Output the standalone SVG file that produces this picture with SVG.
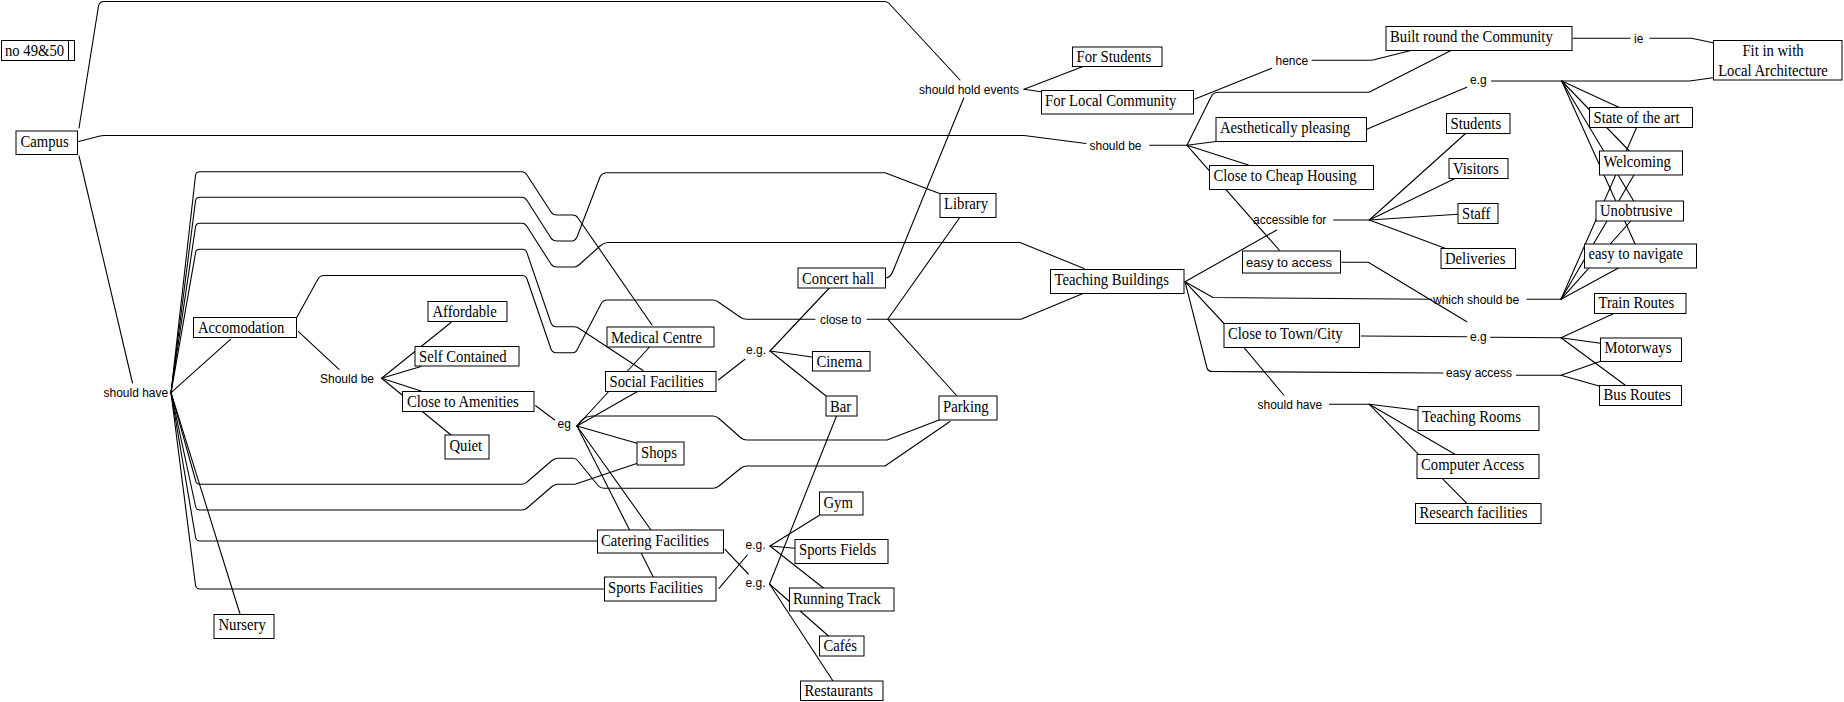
<svg xmlns="http://www.w3.org/2000/svg" width="1844" height="702" viewBox="0 0 1844 702">
<style>
.bg{fill:#fff}
.c path{fill:none;stroke:#000;stroke-width:1.1;stroke-linejoin:round;stroke-linecap:round}
.b{fill:#fff;stroke:#000;stroke-width:1}
.t{font-family:"Liberation Serif","Times New Roman",serif;font-size:17px;fill:#000;transform-box:fill-box;transform-origin:0 0;transform:scaleX(0.865)}
.tm{font-family:"Liberation Serif","Times New Roman",serif;font-size:17px;fill:#000;text-anchor:middle;transform-box:fill-box;transform-origin:50% 0;transform:scaleX(0.865)}
.s{font-family:"Liberation Sans",Arial,sans-serif;font-size:13px;fill:#000}
.l{font-family:"Liberation Sans",Arial,sans-serif;font-size:12px;fill:#000}
</style>
<rect class="bg" x="0" y="0" width="1844" height="702"/>
<g id="connectors" class="c">
<path d="M79,128 L98.5,6 Q99.5,1.5 104,1.5 L884,1.5 Q888,1.5 890.5,5 L960,80"/>
<path d="M77.5,141.7 L100,136 Q102,135.5 104,135.5 L1024,135.5 L1086,143.5"/>
<path d="M1149.6,145.3 L1187,145.3"/>
<path d="M79,156 L132.5,383"/>
<path d="M171,392.7 L230.5,339.3"/>
<path d="M171,392.7 L195.5,175.5 Q196,171.7 200,171.7 L522,171.7 Q525,171.7 527,175 L551,212 Q553,215 557,215 L573,215 Q576,215 578,218 L652,325"/>
<path d="M171,392.7 L195.5,201 Q196,197.3 200,197.3 L522,197.3 Q525,197.3 527,200.5 L551,238 Q553,241 557,241 L572,241 Q575,241 577,237 L600,177 Q602,172.7 607,172.7 L885,172.7 L939.5,193.5"/>
<path d="M171,392.7 L195.5,227 Q196,223.3 200,223.3 L522,223.3 Q525,223.3 527,226.5 L551,264 Q553,267 557,267 L574,267 Q577,267 580,264 L600,246 Q604,242.5 608,242.5 L1020,242.5 L1084,268.5"/>
<path d="M171,392.7 L195.5,253 Q196,249.3 200,249.3 L522,249.3 Q526,249.3 527,253 L551,323 Q552.5,326.7 556,326.7 L574,326.7 Q577,326.7 580,329 L643,370.5"/>
<path d="M296.5,318 L318,279 Q320,275.5 324,275.5 L522,275.5 Q526,275.5 527,279 L551,349 Q552.5,352.7 556,352.7 L573,352.7 Q576,352.7 577.5,349 L601,304 Q603,300 607,300 L713,300 Q716,300 719,302.5 L740,317 Q743,319.3 747,319.3 L815,319.3"/>
<path d="M171,392.7 L195.5,480 Q196,484.3 200,484.3 L522,484.3 Q525,484.3 527,482 L552,460.5 Q555,458.3 558,458.3 L573,458.3 Q576,458.3 578,461 L598,485.5 Q600.5,488.3 604,488.3 L713,488.3 Q716,488.3 719,486 L741,468 Q744,466 747,466 L885,466 L950,421.5"/>
<path d="M171,392.7 L195.5,506 Q196,510 200,510 L522,510 Q525,510 527,508 L552,486.5 Q555,484.3 558,484.3 L575,484.3 L636.7,463.5"/>
<path d="M171,392.7 L195.5,537 Q196,541 200,541 L597,541"/>
<path d="M171,392.7 L195.5,585 Q196,589 200,589 L604,589"/>
<path d="M171,392.7 L240,614"/>
<path d="M298.5,331.7 L339,369.3"/>
<path d="M381.6,378.3 L451,322.5"/>
<path d="M381.6,378.3 L421,366.5"/>
<path d="M381.6,378.3 L421,391"/>
<path d="M381.6,378.3 L451,435"/>
<path d="M535.7,405.7 L554.7,420"/>
<path d="M577,426 L650,346.5"/>
<path d="M577,426 L638.3,391"/>
<path d="M577,426 Q583,416 592,416 L713,416 Q716,416 719,418.5 L741,438 Q743.5,440 747,440 L887,440 L939,420"/>
<path d="M577,426 L637,443.3"/>
<path d="M577,426 L651,530"/>
<path d="M577,426 L653.3,577"/>
<path d="M718.3,380 L745,359.3"/>
<path d="M770,351 L829.3,288"/>
<path d="M770,351 L812,357"/>
<path d="M770,351 L826,396"/>
<path d="M719,588.3 L747.3,555"/>
<path d="M725,549.3 L748.3,574"/>
<path d="M770,546 L819,515.5"/>
<path d="M770,546 L795,548.3"/>
<path d="M770,546 L823.4,588"/>
<path d="M769.5,584 L836.5,416"/>
<path d="M769.5,584 L828.5,636"/>
<path d="M769.5,584 L833,681"/>
<path d="M867,319.3 L887.8,319.3 L1021,319.3 L1083,293.5"/>
<path d="M887.8,319.3 L959.8,217.5"/>
<path d="M887.8,319.3 L957,396"/>
<path d="M963.8,98 L893,271 Q891,277 886,278"/>
<path d="M1024,89.3 L1083,66.5"/>
<path d="M1024,89.3 L1041,91.7"/>
<path d="M1195,99 L1271.7,68.3"/>
<path d="M1312,60.3 L1369,60.3 Q1373,60.3 1377,59 L1411,50.5"/>
<path d="M1187,145.3 L1211,97 Q1213,92.3 1219,92.3 L1369,92.3 L1451,50.5"/>
<path d="M1187,145.3 L1216,141.5"/>
<path d="M1187,145.3 L1248.3,165"/>
<path d="M1187,145.3 L1280,251"/>
<path d="M1367,129.3 L1372,127 L1466.8,87.3"/>
<path d="M1491.4,81 L1689.6,81 L1713,77.7"/>
<path d="M1561.7,81 L1641,117.5"/>
<path d="M1561.7,81 L1641,163"/>
<path d="M1561.7,81 L1639.7,211"/>
<path d="M1561.7,81 L1640.5,256"/>
<path d="M1573,38.3 L1630,38.3"/>
<path d="M1650,38.3 L1691.6,38.3 L1713,42.7"/>
<path d="M1185,281.7 L1276.7,230"/>
<path d="M1185,281.7 L1213,297.5 L1431.7,299.3"/>
<path d="M1185,281.7 L1224,323.5"/>
<path d="M1185,281.7 L1207,368 Q1208,371.5 1213,371.5 L1443,373"/>
<path d="M1333.7,220 L1369.3,220"/>
<path d="M1369.3,220 L1465,134"/>
<path d="M1369.3,220 L1454,179"/>
<path d="M1369.3,220 L1458,214.3"/>
<path d="M1369.3,220 L1445,248.3"/>
<path d="M1341.7,262.3 L1368.3,262.3 L1466.8,321.7"/>
<path d="M1361.3,336 L1466.8,336.7"/>
<path d="M1490.6,337.3 L1561,337.7"/>
<path d="M1561,337.7 L1612.8,314"/>
<path d="M1561,337.7 L1600.5,343.3"/>
<path d="M1561,337.7 L1625,385"/>
<path d="M1516.5,375.3 L1561,375.3 L1600,361.5"/>
<path d="M1561,375.3 L1599,386"/>
<path d="M1527,299.3 L1561,299.3"/>
<path d="M1561,299.3 L1641,117.5"/>
<path d="M1561,299.3 L1641,163"/>
<path d="M1561,299.3 L1639.7,211"/>
<path d="M1561,299.3 L1640.5,256"/>
<path d="M1244.7,348.3 L1283.7,395"/>
<path d="M1329.5,404.3 L1369.3,404.3"/>
<path d="M1369.3,404.3 L1418,410.3"/>
<path d="M1369.3,404.3 L1454.8,454.3"/>
<path d="M1369.3,404.3 L1466.8,503.3"/>
</g>
<g id="labels">
<g id="l_should_hold_events"><text class="l" x="919" y="93.5">should hold events</text></g>
<g id="l_should_be_campus"><text class="l" x="1089.5" y="149.5">should be</text></g>
<g id="l_should_have_campus"><text class="l" x="103.5" y="397">should have</text></g>
<g id="l_should_be_accom"><text class="l" x="320" y="382.5">Should be</text></g>
<g id="l_eg_amenities"><text class="l" x="557.5" y="428">eg</text></g>
<g id="l_close_to"><text class="l" x="820" y="323.5">close to</text></g>
<g id="l_eg_social"><text class="l" x="746" y="354">e.g.</text></g>
<g id="l_eg_sports"><text class="l" x="745.5" y="548.5">e.g.</text></g>
<g id="l_eg_catering"><text class="l" x="745.5" y="586.5">e.g.</text></g>
<g id="l_hence"><text class="l" x="1275.5" y="65">hence</text></g>
<g id="l_ie"><text class="l" x="1634" y="43">ie</text></g>
<g id="l_eg_aesthetic"><text class="l" x="1470" y="83.5">e.g</text></g>
<g id="l_accessible_for"><text class="l" x="1253" y="224">accessible for</text></g>
<g id="l_which_should_be"><text class="l" x="1433" y="303.5">which should be</text></g>
<g id="l_eg_routes"><text class="l" x="1470" y="340.5">e.g</text></g>
<g id="l_easy_access"><text class="l" x="1446" y="377">easy access</text></g>
<g id="l_should_have_town"><text class="l" x="1257.5" y="408.5">should have</text></g>
</g>
<g id="nodes">
<g id="n_no4950"><rect class="b" x="1.5" y="40.5" width="73" height="20"/><path d="M68.5,40.5 V60.5" stroke="#000" stroke-width="1"/><text class="t" x="5" y="56.5">no 49&amp;50</text></g>
<g id="n_campus"><rect class="b" x="16" y="131" width="61.5" height="23.5"/><text class="t" x="20.5" y="147">Campus</text></g>
<g id="n_accomodation"><rect class="b" x="193.5" y="317.5" width="103" height="20"/><text class="t" x="198" y="333.5">Accomodation</text></g>
<g id="n_affordable"><rect class="b" x="428" y="301.5" width="79" height="20"/><text class="t" x="432.5" y="317.5">Affordable</text></g>
<g id="n_selfcontained"><rect class="b" x="415" y="346.5" width="104" height="19.5"/><text class="t" x="419" y="362.5">Self Contained</text></g>
<g id="n_closetoamenities"><rect class="b" x="402.5" y="391.5" width="131.5" height="20"/><text class="t" x="407" y="407.5">Close to Amenities</text></g>
<g id="n_quiet"><rect class="b" x="445" y="435" width="44" height="24"/><text class="t" x="449.5" y="451">Quiet</text></g>
<g id="n_nursery"><rect class="b" x="214" y="614.5" width="60" height="24"/><text class="t" x="218.5" y="630.5">Nursery</text></g>
<g id="n_medicalcentre"><rect class="b" x="607" y="327" width="107" height="20"/><text class="t" x="611" y="343">Medical Centre</text></g>
<g id="n_socialfacilities"><rect class="b" x="605.5" y="371.5" width="110.5" height="20"/><text class="t" x="609.5" y="387.5">Social Facilities</text></g>
<g id="n_shops"><rect class="b" x="637" y="442" width="47" height="23"/><text class="t" x="641" y="458">Shops</text></g>
<g id="n_catering"><rect class="b" x="597.5" y="530" width="126" height="23"/><text class="t" x="601" y="546">Catering Facilities</text></g>
<g id="n_sportsfacilities"><rect class="b" x="604.5" y="577" width="111.5" height="24"/><text class="t" x="608" y="593">Sports Facilities</text></g>
<g id="n_concerthall"><rect class="b" x="798" y="268" width="87.5" height="20"/><text class="t" x="802" y="284">Concert hall</text></g>
<g id="n_library"><rect class="b" x="940" y="193.5" width="56" height="24"/><text class="t" x="944" y="209.5">Library</text></g>
<g id="n_cinema"><rect class="b" x="812.5" y="351.5" width="57.5" height="19.5"/><text class="t" x="816.5" y="367">Cinema</text></g>
<g id="n_bar"><rect class="b" x="826" y="396" width="31" height="20"/><text class="t" x="830" y="412">Bar</text></g>
<g id="n_parking"><rect class="b" x="939" y="396" width="58" height="24"/><text class="t" x="943" y="412">Parking</text></g>
<g id="n_gym"><rect class="b" x="819.5" y="492" width="43.5" height="23"/><text class="t" x="823.5" y="508">Gym</text></g>
<g id="n_sportsfields"><rect class="b" x="795" y="539.5" width="93" height="24"/><text class="t" x="799" y="555">Sports Fields</text></g>
<g id="n_runningtrack"><rect class="b" x="789.5" y="588" width="104.5" height="23"/><text class="t" x="793" y="604">Running Track</text></g>
<g id="n_cafes"><rect class="b" x="819.5" y="636" width="44.5" height="20"/><text class="t" x="823.5" y="651.5">Cafés</text></g>
<g id="n_restaurants"><rect class="b" x="800.5" y="681" width="82.5" height="19.5"/><text class="t" x="804.5" y="696.5">Restaurants</text></g>
<g id="n_forstudents"><rect class="b" x="1072.5" y="47" width="89.5" height="19.5"/><text class="t" x="1076.5" y="62.5">For Students</text></g>
<g id="n_forlocalcommunity"><rect class="b" x="1041.5" y="90.5" width="152" height="23.5"/><text class="t" x="1045" y="106">For Local Community</text></g>
<g id="n_teachingbuildings"><rect class="b" x="1050.5" y="269.5" width="133.5" height="24"/><text class="t" x="1054.5" y="285">Teaching Buildings</text></g>
<g id="n_builtround"><rect class="b" x="1386" y="26.5" width="186" height="24"/><text class="t" x="1390" y="42">Built round the Community</text></g>
<g id="n_fitin"><rect class="b" x="1713.5" y="40.5" width="128.5" height="39.5"/><text class="tm" x="1773" y="56">Fit in with</text><text class="tm" x="1773" y="76">Local Architecture</text></g>
<g id="n_aesthetic"><rect class="b" x="1216" y="117.5" width="150.5" height="24"/><text class="t" x="1220" y="133">Aesthetically pleasing</text></g>
<g id="n_cheaphousing"><rect class="b" x="1209.5" y="165.5" width="164" height="24"/><text class="t" x="1213.5" y="181">Close to Cheap Housing</text></g>
<g id="n_easytoaccess"><rect class="b" x="1242.5" y="251" width="98" height="22"/><text class="s" x="1246" y="266.5">easy to access</text></g>
<g id="n_students"><rect class="b" x="1446.5" y="113.5" width="63.5" height="20"/><text class="t" x="1450.5" y="129">Students</text></g>
<g id="n_visitors"><rect class="b" x="1449" y="158.5" width="59" height="20"/><text class="t" x="1453" y="174.5">Visitors</text></g>
<g id="n_staff"><rect class="b" x="1458" y="203.5" width="40" height="20"/><text class="t" x="1462" y="219">Staff</text></g>
<g id="n_deliveries"><rect class="b" x="1441" y="248.5" width="74.5" height="20"/><text class="t" x="1445" y="264">Deliveries</text></g>
<g id="n_stateoftheart"><rect class="b" x="1589.5" y="107.5" width="103" height="20"/><text class="t" x="1593.5" y="123">State of the art</text></g>
<g id="n_welcoming"><rect class="b" x="1599.5" y="151" width="83" height="24"/><text class="t" x="1603.5" y="167">Welcoming</text></g>
<g id="n_unobtrusive"><rect class="b" x="1596" y="201" width="87.5" height="20"/><text class="t" x="1600" y="216.5">Unobtrusive</text></g>
<g id="n_easytonavigate"><rect class="b" x="1584.5" y="244" width="112" height="24"/><text class="t" x="1588.5" y="259.5">easy to navigate</text></g>
<g id="n_trainroutes"><rect class="b" x="1594.5" y="293.5" width="91.5" height="20"/><text class="t" x="1598.5" y="308.5">Train Routes</text></g>
<g id="n_motorways"><rect class="b" x="1600.5" y="338" width="81" height="23.5"/><text class="t" x="1604.5" y="353.5">Motorways</text></g>
<g id="n_busroutes"><rect class="b" x="1599.5" y="385.5" width="82" height="20"/><text class="t" x="1603.5" y="400.5">Bus Routes</text></g>
<g id="n_closetotown"><rect class="b" x="1224" y="323.5" width="135.5" height="24"/><text class="t" x="1228" y="339.5">Close to Town/City</text></g>
<g id="n_teachingrooms"><rect class="b" x="1418" y="406.5" width="121" height="24"/><text class="t" x="1422" y="422">Teaching Rooms</text></g>
<g id="n_computeraccess"><rect class="b" x="1417" y="454.5" width="122" height="24"/><text class="t" x="1421" y="470">Computer Access</text></g>
<g id="n_research"><rect class="b" x="1415.5" y="503.5" width="125.5" height="20"/><text class="t" x="1419.5" y="518.5">Research facilities</text></g>
</g>
</svg>
